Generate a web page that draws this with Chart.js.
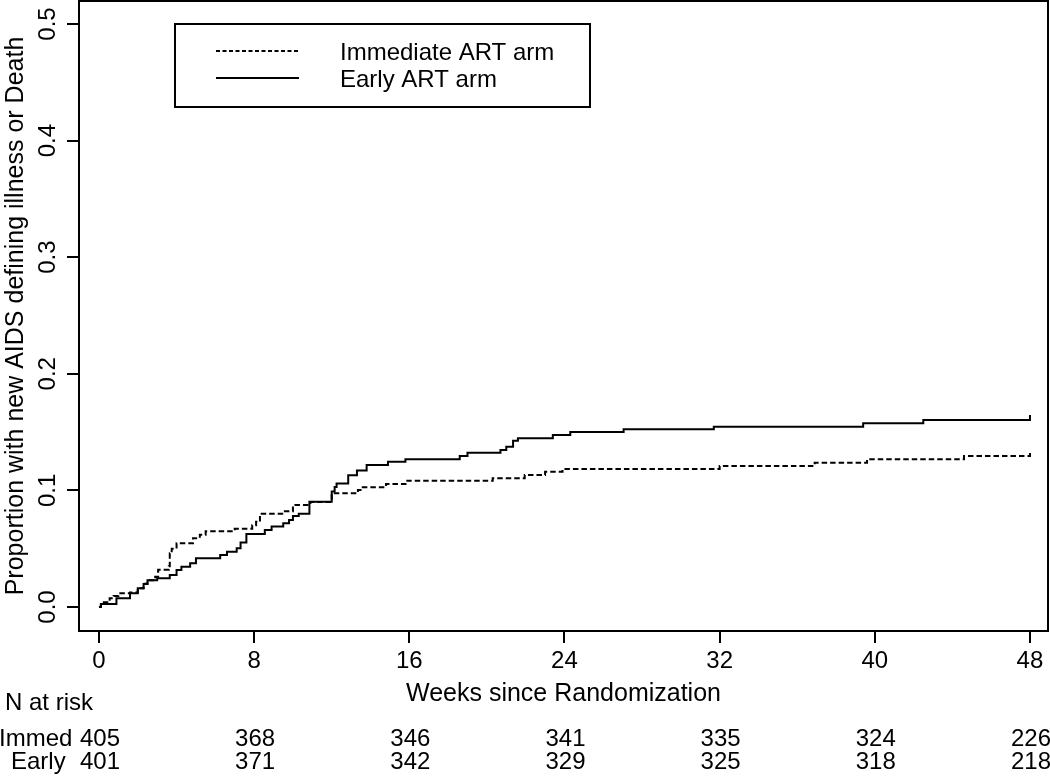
<!DOCTYPE html>
<html><head><meta charset="utf-8">
<script src="https://cdn.jsdelivr.net/npm/chart.js@4.4.1/dist/chart.umd.min.js"></script>
<style>html,body{margin:0;padding:0;background:#fff}canvas{display:block}</style>
</head><body>
<canvas id="c" width="1050" height="776"></canvas>
<script>
const seriesNames = ['Immediate ART arm', 'Early ART arm'];
const immWeeks = [0, 0.1, 0.55, 0.75, 1.0, 1.6, 2.0, 2.3, 2.5, 2.9, 3.05, 3.6, 3.65, 3.75, 4.0, 4.85, 5.2, 5.5, 7.0, 7.9, 8.1, 8.3, 9.5, 10.0, 10.9, 12.0, 13.35, 13.6, 14.8, 15.9, 20.3, 21.95, 23.0, 23.9, 32.0, 36.9, 39.6, 44.6, 48];
const immProp  = [0, 0.004, 0.0075, 0.0095, 0.0117, 0.0125, 0.016, 0.020, 0.023, 0.026, 0.032, 0.035, 0.046, 0.050, 0.0546, 0.059, 0.062, 0.065, 0.067, 0.070, 0.073, 0.080, 0.082, 0.0875, 0.090, 0.0975, 0.1003, 0.1026, 0.1055, 0.1083, 0.1104, 0.1132, 0.116, 0.1184, 0.121, 0.1238, 0.1267, 0.1295, 0.133];
const earlyWeeks = [0, 0.1, 0.9, 1.6, 2.0, 2.3, 2.5, 3.0, 3.65, 4.0, 4.25, 4.7, 5.0, 6.25, 6.6, 7.1, 7.3, 7.6, 8.55, 8.9, 9.5, 9.8, 10.0, 10.3, 10.85, 12.0, 12.15, 12.25, 12.85, 13.3, 13.8, 14.9, 15.8, 18.6, 19.0, 20.7, 21.0, 21.35, 21.6, 23.4, 24.3, 27.05, 31.7, 39.4, 42.5, 48];
const earlyProp  = [0, 0.0026, 0.0075, 0.0117, 0.016, 0.0197, 0.023, 0.0246, 0.0274, 0.0317, 0.0346, 0.0375, 0.0418, 0.0446, 0.0474, 0.0503, 0.0552, 0.0626, 0.066, 0.069, 0.0718, 0.0746, 0.078, 0.080, 0.0903, 0.099, 0.103, 0.106, 0.113, 0.117, 0.1218, 0.1246, 0.1267, 0.1295, 0.1323, 0.1346, 0.1375, 0.1426, 0.1447, 0.1475, 0.150, 0.1524, 0.1546, 0.1575, 0.1604, 0.1647];
const xTicks = [0, 8, 16, 24, 32, 40, 48];
const yTicks = [0, 0.1, 0.2, 0.3, 0.4, 0.5];
const riskRowLabels = ['Immed', 'Early'];
const immRisk = [405, 368, 346, 341, 335, 324, 226];
const earlyRisk = [401, 371, 342, 329, 325, 318, 218];
const xTitle = 'Weeks since Randomization';
const yTitle = 'Proportion with new AIDS defining illness or Death';
const riskTitle = 'N at risk';

const FONT = "'Liberation Sans', Arial, Helvetica, sans-serif";

const decor = {
  id: 'decor',
  beforeDraw(chart) {
    const ctx = chart.ctx;
    ctx.save(); ctx.fillStyle = '#fff'; ctx.fillRect(0, 0, chart.width, chart.height); ctx.restore();
  },
  afterDraw(chart) {
    const {ctx, chartArea: a, scales: {x, y}} = chart;
    const ds = chart.data.datasets;
    ctx.save();
    ctx.strokeStyle = '#000'; ctx.lineWidth = 2;
    ctx.strokeRect(a.left, a.top, a.right - a.left, a.bottom - a.top);
    // rotated y tick labels
    ctx.fillStyle = '#000';
    ctx.font = '24px ' + FONT;
    ctx.textAlign = 'center'; ctx.textBaseline = 'middle';
    y.ticks.forEach(t => {
      const py = y.getPixelForValue(t.value);
      ctx.save(); ctx.translate(48.5, py); ctx.rotate(-Math.PI / 2);
      ctx.fillText(t.value.toFixed(1), 0, 0); ctx.restore();
    });
    // legend box
    ctx.lineWidth = 2;
    ctx.strokeRect(175, 24, 415, 83);
    const rows = [51, 78];
    const bases = [59.5, 86.5];
    ds.forEach((d, i) => {
      ctx.beginPath();
      ctx.setLineDash(i === 0 ? [4, 2.5] : []);
      ctx.lineWidth = 2;
      ctx.moveTo(216, rows[i]); ctx.lineTo(299, rows[i]); ctx.stroke();
      ctx.setLineDash([]);
      ctx.font = '24px ' + FONT;
      ctx.textAlign = 'left'; ctx.textBaseline = 'alphabetic';
      ctx.fillText(d.label, 340, bases[i]);
    });
    // risk table
    ctx.font = '24px ' + FONT;
    ctx.textAlign = 'left'; ctx.textBaseline = 'alphabetic';
    ctx.fillText(riskTitle, 5, 710);
    ctx.fillText(riskRowLabels[0], -1, 746);
    ctx.fillText(riskRowLabels[1], 11, 769);
    ctx.textAlign = 'center';
    xTicks.forEach((w, i) => {
      const px = x.getPixelForValue(w);
      ctx.fillText(String(immRisk[i]), px + 1, 746);
      ctx.fillText(String(earlyRisk[i]), px + 1, 769);
    });
    ctx.restore();
  }
};

const gridOpts = {display: true, drawOnChartArea: false, drawTicks: true, tickLength: 12, color: '#000', lineWidth: 2};

new Chart(document.getElementById('c'), {
  type: 'line',
  data: {
    datasets: [
      {label: seriesNames[0], data: immWeeks.map((w, i) => ({x: w, y: immProp[i]})),
       borderColor: '#000', borderWidth: 2, borderDash: [5.5, 3], stepped: 'before', pointRadius: 0, fill: false},
      {label: seriesNames[1], data: earlyWeeks.map((w, i) => ({x: w, y: earlyProp[i]})),
       borderColor: '#000', borderWidth: 2, stepped: 'before', pointRadius: 0, fill: false}
    ]
  },
  options: {
    responsive: false, animation: false, devicePixelRatio: 1,
    layout: {padding: {left: 0, top: 1, right: 2, bottom: 67}},
    plugins: {legend: {display: false}, tooltip: {enabled: false}},
    scales: {
      x: {
        type: 'linear', min: -1.03, max: 48.93,
        afterBuildTicks: s => { s.ticks = xTicks.map(v => ({value: v})); },
        afterFit: s => { s.height = 78; },
        grid: gridOpts,
        border: {display: true, color: '#000', width: 2},
        ticks: {color: '#000', font: {family: FONT, size: 24}, padding: 4, maxRotation: 0, minRotation: 0, autoSkip: false},
        title: {display: true, text: xTitle, color: '#000', font: {family: FONT, size: 25}, padding: 0}
      },
      y: {
        type: 'linear', min: -0.0206, max: 0.5197,
        afterBuildTicks: s => { s.ticks = yTicks.map(v => ({value: v})); },
        afterFit: s => { s.width = 79; },
        grid: gridOpts,
        border: {display: true, color: '#000', width: 2},
        ticks: {display: false},
        title: {display: true, text: yTitle, color: '#000', font: {family: FONT, size: 25}, padding: {top: 1, bottom: 0}}
      }
    }
  },
  plugins: [decor]
});
</script>
</body></html>
